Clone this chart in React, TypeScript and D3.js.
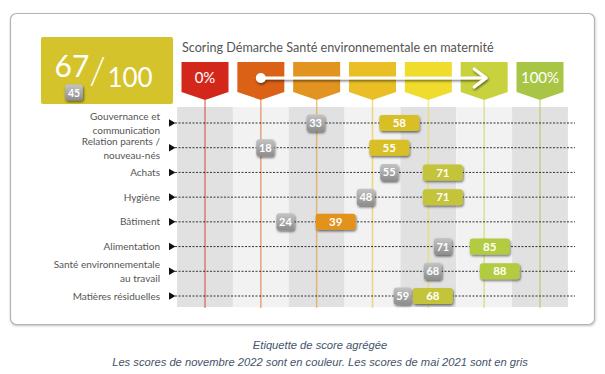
import React from "react";
import * as d3 from "d3";

const categories = [
  "Gouvernance et\ncommunication",
  "Relation parents /\nnouveau-nés",
  "Achats",
  "Hygiène",
  "Bâtiment",
  "Alimentation",
  "Santé environnementale\nau travail",
  "Matières résiduelles",
];
const scores2022 = [58, 55, 71, 71, 39, 85, 88, 68];
const scores2021 = [33, 18, 55, 48, 24, 71, 68, 59];
const globalScore2022 = 67;
const globalScore2021 = 45;
const maxScore = 100;
const flagSteps = [0, 1, 2, 3, 4, 5, 6];
const flagLabels = ["0%", "", "", "", "", "", "100%"];
const title = "Scoring Démarche Santé environnementale en maternité";
const captionLines = [
  "Etiquette de score agrégée",
  "Les scores de novembre 2022 sont en couleur. Les scores de mai 2021 sont en gris",
];

const flagColors = ["#d2271a", "#db6117", "#e3931f", "#eabf25", "#efdc2d", "#c8d23e", "#a8c545"];
const boxColors = ["#d2271a", "#db6117", "#e3931f", "#d8bf28", "#c4c43a", "#b2cb3f"];

const FONT = "Lato, 'Open Sans', sans-serif";

export default function App() {
  const x = d3.scaleLinear().domain([0, maxScore]).range([205, 540]);
  const y = d3.scalePoint<string>().domain(categories).range([123, 296]);
  const flagValue = (i: number) => (i / 6) * maxScore;
  const color = d3
    .scaleThreshold<number, string>()
    .domain([100 / 6, 200 / 6, 50, 400 / 6, 500 / 6])
    .range(boxColors);

  const stripeW = x(100 / 6) - x(0);
  const flagW = 47;
  const flagTop = 62;
  const flagShoulder = 92;
  const flagTip = 100;
  const gridTop = 107;
  const gridBottom = 307;

  return (
    <svg
      width={605}
      height={374}
      style={{ position: "absolute", left: 0, top: 0, display: "block" }}
      fontFamily={FONT}
    >
      <defs>
        <filter id="sh" x="-30%" y="-30%" width="160%" height="180%">
          <feDropShadow dx="0.8" dy="1.6" stdDeviation="0.8" floodColor="#000" floodOpacity="0.55" />
        </filter>
        <filter id="frameSh" x="-5%" y="-5%" width="110%" height="110%">
          <feDropShadow dx="0.5" dy="1" stdDeviation="1" floodColor="#000" floodOpacity="0.25" />
        </filter>
        <linearGradient id="grayGrad" x1="0" y1="0" x2="0" y2="1">
          <stop offset="0" stopColor="#c4c4c4" />
          <stop offset="1" stopColor="#8c8c8c" />
        </linearGradient>
      </defs>

      <rect width={605} height={374} fill="#fff" />
      <rect x={10.5} y={13.5} width={584} height={311} rx={6} fill="#fff" stroke="#b4b4b4" strokeWidth={1.2} filter="url(#frameSh)" />

      {/* score box */}
      <rect x={41} y={37} width={132} height={67} rx={2} fill="#d5c32b" />
      <text x={72} y={77} fill="#fff" fontSize={30} textAnchor="middle">{globalScore2022}</text>
      <text x={97.5} y={84} fill="#fff" fontSize={38} textAnchor="middle" fontWeight={300}>/</text>
      <text x={130} y={87} fill="#fff" fontSize={26} textAnchor="middle">{maxScore}</text>
      <g filter="url(#sh)">
        <rect x={65} y={84.5} width={18} height={16} rx={3} fill="url(#grayGrad)" />
      </g>
      <text x={74} y={96.5} fill="#fff" fontSize={10.5} fontWeight={700} textAnchor="middle">{globalScore2021}</text>

      {/* title */}
      <text x={182} y={52} fill="#555" fontSize={12.6}>{title}</text>

      {/* stripes */}
      {flagSteps.map((i) => (
        <rect
          key={"s" + i}
          x={x(flagValue(i)) - stripeW / 2}
          y={gridTop}
          width={stripeW}
          height={gridBottom - gridTop}
          fill={i % 2 === 0 ? "#e1e1e1" : "#f2f2f2"}
        />
      ))}

      {/* vertical lines */}
      {flagSteps.map((i) => (
        <line
          key={"v" + i}
          x1={x(flagValue(i))}
          x2={x(flagValue(i))}
          y1={flagTip}
          y2={gridBottom + 1}
          stroke={flagColors[i]}
          strokeOpacity={0.55}
          strokeWidth={1.5}
        />
      ))}

      {/* flags */}
      {flagSteps.map((i) => {
        const cx = x(flagValue(i));
        const x0 = cx - flagW / 2;
        const x1 = cx + flagW / 2;
        return (
          <g key={"f" + i}>
            <path
              d={`M${x0},${flagTop}H${x1}V${flagShoulder}L${cx},${flagTip}L${x0},${flagShoulder}Z`}
              fill={flagColors[i]}
            />
            {flagLabels[i] && (
              <text x={cx} y={83} fill="#fff" fontSize={15} textAnchor="middle">
                {flagLabels[i]}
              </text>
            )}
          </g>
        );
      })}

      {/* arrow */}
      <g filter="url(#sh)">
        <line x1={x(flagValue(1))} x2={x(flagValue(5)) + 1} y1={78} y2={78} stroke="#fff" strokeWidth={3} />
        <polyline
          points={`${x(flagValue(5)) - 10},69 ${x(flagValue(5)) + 2},78 ${x(flagValue(5)) - 10},87`}
          fill="none"
          stroke="#fff"
          strokeWidth={3}
          strokeLinecap="round"
          strokeLinejoin="round"
        />
        <circle cx={x(flagValue(1))} cy={78} r={5} fill="#fff" />
      </g>

      {/* rows */}
      {categories.map((c, i) => {
        const yy = y(c)!;
        const lines = c.split("\n");
        return (
          <g key={"r" + i}>
            <line x1={175} x2={575} y1={yy} y2={yy} stroke="#333" strokeWidth={1} strokeDasharray="2,1.5" />
            <path d={`M169,${yy - 3.8}L175.5,${yy}L169,${yy + 3.8}Z`} fill="#111" />
            {lines.map((t, k) => (
              <text
                key={k}
                x={160}
                y={yy + (lines.length === 1 ? 0 : k === 0 ? -6.5 : 7.5)}
                dy="0.35em"
                fill="#555"
                fontSize={10}
                textAnchor="end"
              >
                {t}
              </text>
            ))}
          </g>
        );
      })}

      {/* 2021 gray badges */}
      {categories.map((c, i) => {
        const cx = x(scores2021[i]);
        const yy = y(c)!;
        return (
          <g key={"g" + i}>
            <rect x={cx - 9} y={yy - 8.5} width={18} height={17} rx={3} fill="url(#grayGrad)" filter="url(#sh)" />
            <text x={cx} y={yy} dy="0.36em" fill="#fff" fontSize={11} fontWeight={700} textAnchor="middle">
              {scores2021[i]}
            </text>
          </g>
        );
      })}

      {/* 2022 colored boxes */}
      {categories.map((c, i) => {
        const cx = x(scores2022[i]);
        const yy = y(c)!;
        return (
          <g key={"c" + i}>
            <rect x={cx - 20} y={yy - 8} width={40} height={16} rx={3} fill={color(scores2022[i])} filter="url(#sh)" />
            <text x={cx} y={yy} dy="0.36em" fill="#fff" fontSize={11.5} fontWeight={700} textAnchor="middle">
              {scores2022[i]}
            </text>
          </g>
        );
      })}

      {/* caption */}
      <text x={320} y={349} fill="#44546a" fontSize={11.2} fontStyle="italic" textAnchor="middle" fontFamily="'Liberation Sans', sans-serif">
        {captionLines[0]}
      </text>
      <text x={320} y={366} fill="#44546a" fontSize={11.2} fontStyle="italic" textAnchor="middle" fontFamily="'Liberation Sans', sans-serif">
        {captionLines[1]}
      </text>
    </svg>
  );
}
